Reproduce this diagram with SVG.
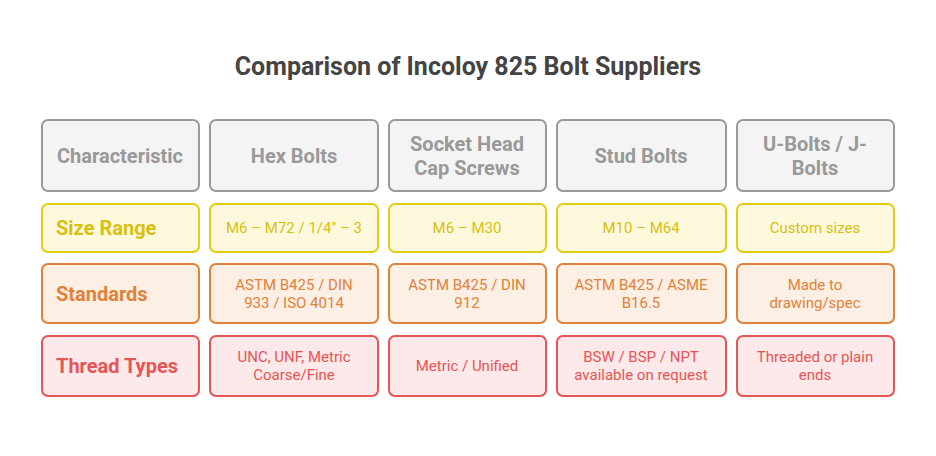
<svg xmlns="http://www.w3.org/2000/svg" width="936" height="456" viewBox="0 0 936 456">
<style>
text{font-family:Roboto,"Liberation Sans",sans-serif}
.t{font-size:25px;font-weight:bold;fill:#444;text-anchor:middle}
.h rect{fill:#f4f4f4;stroke:#999}
.h text{fill:#999;font-size:20px;font-weight:bold;text-anchor:middle}
.y rect{fill:#fef9dc;stroke:#e2cd16}
.y text{fill:#d8c011}
.o rect{fill:#fdefe3;stroke:#e0823a}
.o text{fill:#e0823a}
.r rect{fill:#fde9e9;stroke:#e65556}
.r text{fill:#e65556}
rect{stroke-width:2}
.c{font-size:15px;text-anchor:middle}
.l{font-size:20px;font-weight:bold}
</style>
<rect width="936" height="456" fill="#fff"/>
<text class="t" x="468" y="75">Comparison of Incoloy 825 Bolt Suppliers</text>
<g class="h">
<g id="h1"><rect x="42" y="120" width="157" height="71" rx="6"/><text x="120" y="163">Characteristic</text></g>
<g id="h2"><rect x="210" y="120" width="168" height="71" rx="6"/><text x="294" y="163">Hex Bolts</text></g>
<g id="h3"><rect x="389" y="120" width="157" height="71" rx="6"/><text x="467" y="151">Socket Head</text><text x="467" y="175">Cap Screws</text></g>
<g id="h4"><rect x="557" y="120" width="169" height="71" rx="6"/><text x="641" y="163">Stud Bolts</text></g>
<g id="h5"><rect x="737" y="120" width="157" height="71" rx="6"/><text x="815" y="151">U-Bolts / J-</text><text x="815" y="175">Bolts</text></g>
</g>
<g class="y">
<g id="y1"><rect x="42" y="204" width="157" height="48" rx="6"/><text class="l" x="56" y="235">Size Range</text></g>
<g id="y2"><rect x="210" y="204" width="168" height="48" rx="6"/><text class="c" x="294" y="233">M6 – M72 / 1/4" – 3</text></g>
<g id="y3"><rect x="389" y="204" width="157" height="48" rx="6"/><text class="c" x="467" y="233">M6 – M30</text></g>
<g id="y4"><rect x="557" y="204" width="169" height="48" rx="6"/><text class="c" x="641" y="233">M10 – M64</text></g>
<g id="y5"><rect x="737" y="204" width="157" height="48" rx="6"/><text class="c" x="815" y="233">Custom sizes</text></g>
</g>
<g class="o">
<g id="o1"><rect x="42" y="264" width="157" height="59" rx="6"/><text class="l" x="56" y="301">Standards</text></g>
<g id="o2"><rect x="210" y="264" width="168" height="59" rx="6"/><text class="c" x="294" y="290">ASTM B425 / DIN</text><text class="c" x="294" y="308">933 / ISO 4014</text></g>
<g id="o3"><rect x="389" y="264" width="157" height="59" rx="6"/><text class="c" x="467" y="290">ASTM B425 / DIN</text><text class="c" x="467" y="308">912</text></g>
<g id="o4"><rect x="557" y="264" width="169" height="59" rx="6"/><text class="c" x="641" y="290">ASTM B425 / ASME</text><text class="c" x="641" y="308">B16.5</text></g>
<g id="o5"><rect x="737" y="264" width="157" height="59" rx="6"/><text class="c" x="815" y="290">Made to</text><text class="c" x="815" y="308">drawing/spec</text></g>
</g>
<g class="r">
<g id="r1"><rect x="42" y="336" width="157" height="60" rx="6"/><text class="l" x="56" y="373">Thread Types</text></g>
<g id="r2"><rect x="210" y="336" width="168" height="60" rx="6"/><text class="c" x="294" y="362">UNC, UNF, Metric</text><text class="c" x="294" y="380">Coarse/Fine</text></g>
<g id="r3"><rect x="389" y="336" width="157" height="60" rx="6"/><text class="c" x="467" y="371">Metric / Unified</text></g>
<g id="r4"><rect x="557" y="336" width="169" height="60" rx="6"/><text class="c" x="641" y="362">BSW / BSP / NPT</text><text class="c" x="641" y="380">available on request</text></g>
<g id="r5"><rect x="737" y="336" width="157" height="60" rx="6"/><text class="c" x="815" y="362">Threaded or plain</text><text class="c" x="815" y="380">ends</text></g>
</g>
<g id="connectors"/>
</svg>
